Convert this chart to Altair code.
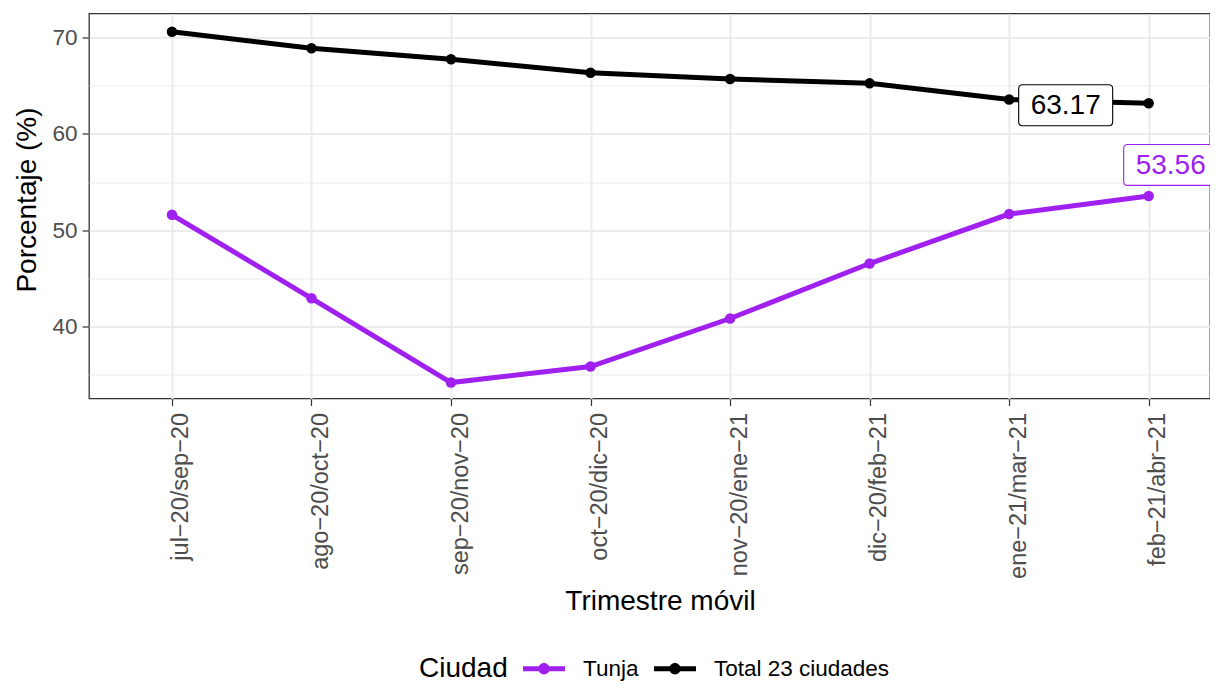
import altair as alt
import pandas as pd

# ---- data ----
trimestres = ["jul−20/sep−20", "ago−20/oct−20", "sep−20/nov−20", "oct−20/dic−20",
              "nov−20/ene−21", "dic−20/feb−21", "ene−21/mar−21", "feb−21/abr−21"]
tunja = [51.60, 42.95, 34.21, 35.87, 40.85, 46.55, 51.68, 53.56]
total = [70.58, 68.86, 67.72, 66.33, 65.68, 65.23, 63.55, 63.17]
series = ["Tunja", "Total 23 ciudades"]
colors = ["#A020F0", "#000000"]
y_ticks = [35, 40, 45, 50, 55, 60, 65, 70]

rows = []
for s, vals in zip(series, [tunja, total]):
    for t, v in zip(trimestres, vals):
        rows.append({"Trimestre": t, "Ciudad": s, "Valor": v})
df = pd.DataFrame(rows)
last = df[df["Trimestre"] == trimestres[-1]].copy()
last["Etiqueta"] = last["Valor"].map(lambda v: f"{v:.2f}")

FONT = "Liberation Sans"

x_enc = alt.X(
    "Trimestre:N", sort=trimestres,
    scale=alt.Scale(type="point", padding=0.517, align=0.575),
    axis=alt.Axis(title="Trimestre móvil", labelAngle=270, labelAlign="right",
                  labelBaseline="top", labelOffset=-3, labelPadding=7, labelFontSize=23.5,
                  gridWidth=2,
                  titleX=571, titleY=203, titleBaseline="middle", titleAnchor="middle"),
)
y_enc = alt.Y(
    "Valor:Q",
    scale=alt.Scale(domain=[32.56, 72.47], nice=False, zero=False),
    axis=alt.Axis(
        values=y_ticks, title="Porcentaje (%)",
        labelExpr="datum.value % 10 == 0 ? datum.label : ''",
        gridWidth={"condition": {"test": "datum.value % 10 == 0", "value": 2}, "value": 1},
        tickColor={"condition": {"test": "datum.value % 10 == 0", "value": "#333333"}, "value": "transparent"},
        labelPadding=5,
        titleAngle=270, titleX=-62, titleY=186, titleBaseline="middle", titleAlign="center",
    ),
)
color_scale = alt.Scale(domain=series, range=colors)

legend_path = ("M-1,-0.12H1V0.12H-1Z "
               "M-0.27,0A0.27,0.27 0 1,1 0.27,0A0.27,0.27 0 1,1 -0.27,0Z")

base = alt.Chart(df)
line_layers = [
    base.transform_filter(alt.datum.Ciudad == s)
    .mark_line(strokeWidth=5, color=c)
    .encode(x=x_enc, y=y_enc)
    for s, c in zip(series, colors)
]
points = base.mark_point(filled=True, size=110, opacity=1).encode(
    x=x_enc, y=y_enc,
    color=alt.Color(
        "Ciudad:N", scale=color_scale,
        legend=alt.Legend(
            orient="none", legendX=330, legendY=634, direction="horizontal",
            title="Ciudad", titleOrient="left", titleAnchor="start",
            titleBaseline="line-top", titleLineHeight=42,
            titleFontSize=28, titleFont=FONT,
            titleColor="black", titleFontWeight="normal", titlePadding=15,
            labelFontSize=22.5, labelFont=FONT, labelColor="black", labelOffset=18,
            labelLimit=500, columnPadding=15, symbolType=legend_path, symbolSize=1764,
            symbolStrokeWidth=0, symbolOpacity=1,
        ),
    ),
)

box_path = ("M-0.915,-0.436H0.915Q1,-0.436 1,-0.351V0.351Q1,0.436 0.915,0.436"
            "H-0.915Q-1,0.436 -1,0.351V-0.351Q-1,-0.436 -0.915,-0.436Z")

lab = alt.Chart(last)
label_layers = []
for s, col, dx, dy in [("Total 23 ciudades", "#000000", -83, 2), ("Tunja", "#A020F0", 22, -31)]:
    sub = lab.transform_filter(alt.datum.Ciudad == s)
    label_layers.append(
        sub.mark_point(shape=box_path, size=8836, filled=True, fill="white",
                       stroke=col, strokeWidth=1.1, opacity=1, xOffset=dx, yOffset=dy)
        .encode(x=x_enc, y=y_enc)
    )
    label_layers.append(
        sub.mark_text(font=FONT, fontSize=28, color=col, align="center", baseline="middle",
                      xOffset=dx, yOffset=dy + 1)
        .encode(x=x_enc, y=y_enc, text="Etiqueta:N")
    )

chart = alt.layer(*line_layers, points, *label_layers).properties(
    width=1121, height=385,
    autosize=alt.AutoSizeParams(type="none"),
    padding={"left": 81, "top": 5.5, "right": 0, "bottom": 285.5},
).configure_view(
    stroke="#333333", strokeWidth=1.3,
).configure_axis(
    domain=False, grid=True, gridColor="#EBEBEB", tickColor="#333333", tickSize=7,
    tickWidth=1.2, labelColor="#4D4D4D", labelFont=FONT, labelFontSize=22.5,
    titleFont=FONT, titleFontSize=28, titleColor="black", titleFontWeight="normal",
)

chart.save("out.html", embed_options={"renderer": "svg", "actions": False})
